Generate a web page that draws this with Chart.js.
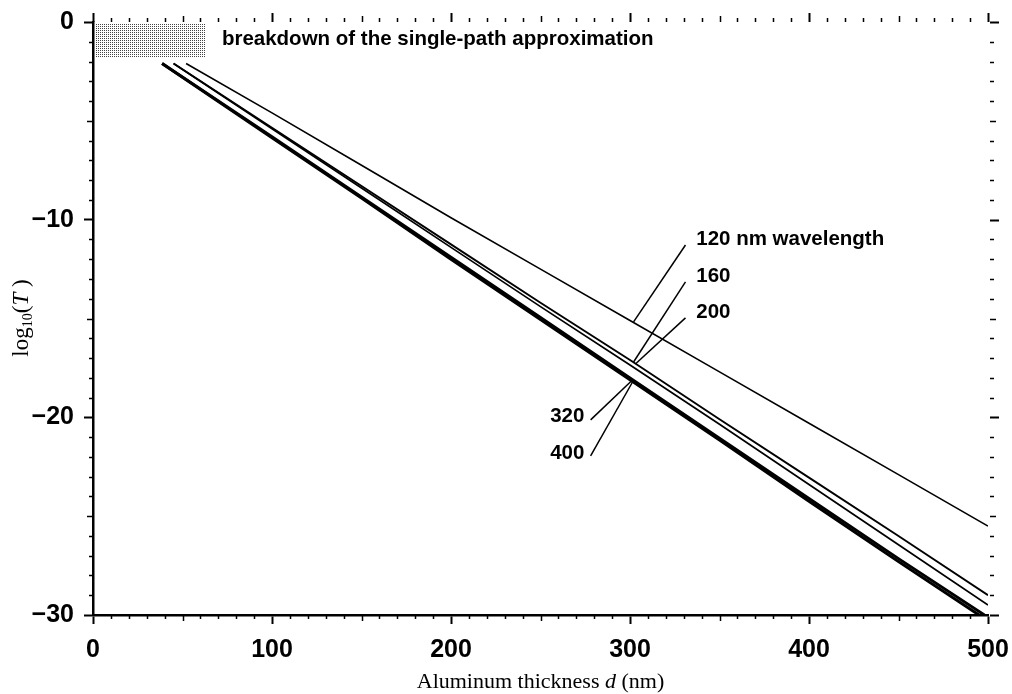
<!DOCTYPE html>
<html>
<head>
<meta charset="utf-8">
<script src="https://cdn.jsdelivr.net/npm/chart.js@4.4.1/dist/chart.umd.min.js"></script>
<style>
  html, body { margin: 0; padding: 0; background: #fff; }
  #wrap { width: 1012px; height: 694px; }
</style>
</head>
<body>
<div id="wrap"><canvas id="chart" width="1012" height="694"></canvas></div>
<script>
// Aluminium thickness (nm) and log10(T) for each wavelength
const d120 = [52, 100, 150, 200, 250, 300, 350, 400, 450, 500];
const t120 = [-2.1, -4.6, -7.25, -9.9, -12.5, -15.1, -17.7, -20.3, -22.9, -25.5];

const d160 = [45, 100, 150, 200, 250, 300, 350, 400, 450, 500];
const t160 = [-2.1, -5.35, -8.3, -11.25, -14.2, -17.1, -20.1, -23.05, -26.0, -29.0];

const d200 = [45, 100, 150, 200, 250, 300, 350, 400, 450, 500];
const t200 = [-2.1, -5.4, -8.4, -11.4, -14.4, -17.35, -20.35, -23.4, -26.45, -29.5];

const d320 = [38.6, 100, 150, 200, 250, 300, 350, 400, 450, 498];
const t320 = [-2.1, -5.8, -8.85, -11.9, -14.95, -18.0, -21.05, -24.1, -27.15, -30.0];

const d400 = [38.6, 100, 150, 200, 250, 300, 350, 400, 450, 495];
const t400 = [-2.1, -5.85, -8.9, -12.0, -15.05, -18.1, -21.15, -24.25, -27.3, -30.0];

const xTicks = [0, 100, 200, 300, 400, 500];
const yTicks = [0, -10, -20, -30];

// breakdown region (nm, log10 T)
const breakdownBox = { d0: 0, d1: 63, t0: 0, t1: -1.8 };

// curve labels: text, leader start (on curve), leader end, label anchor
const curveLabels = [
  { text: '120 nm wavelength', from: [302, -15.17], to: [331, -11.28], at: [337, -11.0], align: 'left' },
  { text: '160', from: [302, -17.2], to: [331, -13.15], at: [337, -12.85], align: 'left' },
  { text: '200', from: [303, -17.3], to: [331, -14.97], at: [337, -14.7], align: 'left' },
  { text: '320', from: [301.5, -18.1], to: [278, -20.13], at: [274.5, -19.95], align: 'right' },
  { text: '400', from: [301.5, -18.2], to: [278, -21.95], at: [274.5, -21.8], align: 'right' }
];

const pts = (xs, ys) => xs.map((x, i) => ({ x: x, y: ys[i] }));

function stipple() {
  const c = document.createElement('canvas');
  c.width = 2; c.height = 2;
  const g = c.getContext('2d');
  g.fillStyle = '#fff';
  g.fillRect(0, 0, 2, 2);
  g.fillStyle = '#444';
  g.fillRect(0, 0, 1, 1);
  return c;
}

const extrasPlugin = {
  id: 'extras',
  beforeDatasetsDraw(chart) {
    const { ctx, scales: { x, y } } = chart;
    ctx.save();
    const x0 = x.getPixelForValue(breakdownBox.d0), x1 = x.getPixelForValue(breakdownBox.d1);
    const y0 = y.getPixelForValue(breakdownBox.t0), y1 = y.getPixelForValue(breakdownBox.t1);
    ctx.fillStyle = ctx.createPattern(stipple(), 'repeat');
    ctx.fillRect(x0 + 2, y0 + 1, x1 - x0 - 2, y1 - y0 - 1);
    ctx.restore();
  },
  afterDraw(chart) {
    const { ctx, chartArea: a, scales: { x, y } } = chart;
    ctx.save();
    ctx.strokeStyle = '#000';

    // minor / medium ticks
    for (let v = 0; v <= 500; v += 10) {
      const px = Math.round(x.getPixelForValue(v)) + 0.5;
      const major = v % 100 === 0;
      const len = major ? 9 : (v % 50 === 0 ? 6 : 4);
      ctx.lineWidth = major ? 2 : 1.5;
      ctx.beginPath();
      if (!major) { ctx.moveTo(px, a.bottom); ctx.lineTo(px, a.bottom + len); }
      ctx.moveTo(px, a.top); ctx.lineTo(px, a.top - len);
      ctx.stroke();
    }
    for (let v = 0; v >= -30; v -= 1) {
      const py = Math.round(y.getPixelForValue(v)) + 0.5;
      const major = v % 10 === 0;
      const len = major ? 9 : (v % 5 === 0 ? 6 : 4);
      ctx.lineWidth = major ? 2 : 1.5;
      ctx.beginPath();
      if (!major) { ctx.moveTo(a.left, py); ctx.lineTo(a.left - len, py); }
      ctx.moveTo(a.right + 2, py); ctx.lineTo(a.right + 2 + len, py);
      ctx.stroke();
    }

    // leaders and curve labels
    ctx.lineWidth = 1.5;
    ctx.fillStyle = '#000';
    ctx.font = 'bold 20.5px "Liberation Sans", Arial, sans-serif';
    ctx.textBaseline = 'middle';
    curveLabels.forEach(l => {
      ctx.beginPath();
      ctx.moveTo(x.getPixelForValue(l.from[0]), y.getPixelForValue(l.from[1]));
      ctx.lineTo(x.getPixelForValue(l.to[0]), y.getPixelForValue(l.to[1]));
      ctx.stroke();
      ctx.textAlign = l.align;
      ctx.fillText(l.text, x.getPixelForValue(l.at[0]), y.getPixelForValue(l.at[1]));
    });

    // breakdown note
    ctx.textAlign = 'left';
    ctx.font = 'bold 20.5px "Liberation Sans", Arial, sans-serif';
    ctx.fillText('breakdown of the single-path approximation', x.getPixelForValue(72), y.getPixelForValue(-0.9));

    // x title with italic d
    const serif = '"Liberation Serif", "Times New Roman", serif';
    ctx.textBaseline = 'alphabetic';
    const parts = [
      { t: 'Aluminum thickness ', f: '22px ' + serif },
      { t: 'd', f: 'italic 22px ' + serif },
      { t: ' (nm)', f: '22px ' + serif }
    ];
    let w = 0;
    parts.forEach(p => { ctx.font = p.f; p.w = ctx.measureText(p.t).width; w += p.w; });
    let cx = (a.left + a.right) / 2 - w / 2;
    parts.forEach(p => { ctx.font = p.f; ctx.fillText(p.t, cx, 688); cx += p.w; });

    // y title: log10(T)
    ctx.translate(28, 318);
    ctx.rotate(-Math.PI / 2);
    const yp = [
      { t: 'log', f: '23px ' + serif, dy: 0 },
      { t: '10', f: '14px ' + serif, dy: 4 },
      { t: '(', f: '23px ' + serif, dy: 0 },
      { t: 'T', f: 'italic 23px ' + serif, dy: 0 },
      { t: ' )', f: '23px ' + serif, dy: 0 }
    ];
    w = 0;
    yp.forEach(p => { ctx.font = p.f; p.w = ctx.measureText(p.t).width; w += p.w; });
    cx = -w / 2;
    yp.forEach(p => { ctx.font = p.f; ctx.fillText(p.t, cx, p.dy); cx += p.w; });
    ctx.restore();
  }
};

const line = (data, width) => ({
  data: data,
  borderColor: '#000',
  borderWidth: width,
  pointRadius: 0,
  tension: 0,
  fill: false
});

const tickFont = { family: '"Liberation Sans", Arial, sans-serif', size: 25, weight: 'bold' };

new Chart(document.getElementById('chart'), {
  type: 'line',
  data: {
    datasets: [
      line(pts(d120, t120), 1.6),
      line(pts(d160, t160), 1.9),
      line(pts(d200, t200), 1.7),
      line(pts(d320, t320), 2.8),
      line(pts(d400, t400), 3)
    ]
  },
  options: {
    responsive: false,
    animation: false,
    layout: { padding: { top: 22, right: 24, left: 0, bottom: 0 } },
    plugins: { legend: { display: false }, tooltip: { enabled: false } },
    scales: {
      x: {
        type: 'linear',
        min: 0,
        max: 500,
        afterBuildTicks: s => { s.ticks = xTicks.map(v => ({ value: v })); },
        ticks: { color: '#000', font: tickFont, padding: 11, maxRotation: 0, autoSkip: false },
        grid: { drawOnChartArea: false, drawTicks: true, tickLength: 9, tickWidth: 2, tickColor: '#000' },
        border: { display: true, color: '#000', width: 2.5 },
        afterFit: s => { s.height = 79; s.paddingLeft = 0; s.paddingRight = 0; }
      },
      y: {
        type: 'linear',
        min: -30,
        max: 0,
        afterBuildTicks: s => { s.ticks = yTicks.map(v => ({ value: v })); },
        ticks: {
          color: '#000', font: tickFont, padding: 10, autoSkip: false,
          callback: v => v < 0 ? '\u2212' + Math.abs(v) : String(v)
        },
        grid: { drawOnChartArea: false, drawTicks: true, tickLength: 9, tickWidth: 2, tickColor: '#000' },
        border: { display: true, color: '#000', width: 2.5 },
        afterFit: s => { s.width = 93; s.paddingTop = 0; s.paddingBottom = 0; }
      }
    }
  },
  plugins: [extrasPlugin]
});
</script>
</body>
</html>
